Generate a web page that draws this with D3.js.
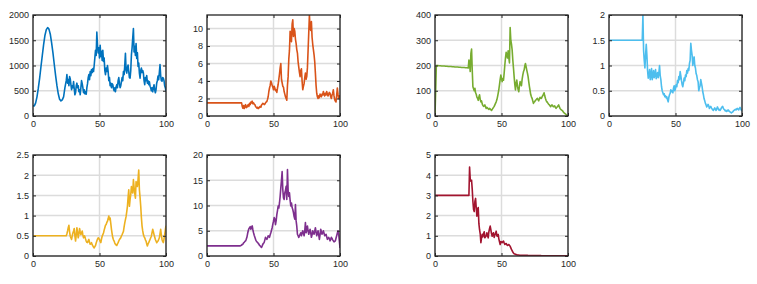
<!DOCTYPE html>
<html><head><meta charset="utf-8">
<script src="https://cdn.jsdelivr.net/npm/d3@7"></script>
<style>body{margin:0;background:#fff}svg{display:block}text{font-family:"Liberation Sans",Arial,sans-serif}</style>
</head><body><svg id="c" width="757" height="284"></svg>
<script>
// x ticks shared by all panels
const xTicks = [0, 50, 100];
// Each series: head = values at x = 0..24 (step 1); tail = values at x = 25..100 (step 0.5)
const blueHead = [200,200,260,380,550,750,980,1200,1420,1600,1710,1750,1720,1620,1450,1250,1020,800,600,440,330,300,320,380,560];
const blueTail = [
 700,820,650,720,600,780,740,620,520,600,
 560,680,540,420,460,600,650,560,600,480,
 520,420,560,700,640,560,460,520,440,480,
 430,560,640,760,820,720,880,800,920,860,
 940,880,1000,1150,1300,1200,1660,1400,1250,1350,
 1150,1400,1180,1280,1100,1300,1080,1150,900,820,
 950,880,1000,880,700,760,600,650,560,640,
 620,540,500,560,480,580,620,560,700,760,
 640,560,600,680,760,700,880,820,1000,1240,
 900,850,960,1010,880,760,750,900,1210,1350,
 1550,1730,1270,1380,1200,1435,1140,1250,980,1050,
 850,750,900,950,860,900,850,700,620,760,
 700,800,650,700,620,680,590,560,500,560,
 480,560,620,520,460,520,650,700,790,720,
 860,1020,800,700,690,760,750,700,600,560,
 490];
const orangeHead = [1.5,1.5,1.5,1.5,1.5,1.5,1.5,1.5,1.5,1.5,1.5,1.5,1.5,1.5,1.5,1.5,1.5,1.5,1.5,1.5,1.5,1.5,1.5,1.5,1.5];
const orangeTail = [
 1.5,1.5,1.5,1.1,0.9,1.2,0.85,1.1,1.3,0.95,
 1.0,1.2,1.3,1.1,1.45,1.3,1.6,1.5,1.7,1.4,
 1.5,1.35,1.3,1.1,1.0,0.9,1.0,0.85,0.9,1.05,
 1.1,1.0,1.25,1.35,1.45,1.4,1.3,1.35,1.5,1.6,
 1.65,1.9,2.2,2.8,3.2,3.5,4.0,3.8,3.5,3.3,
 3.0,3.4,3.2,2.9,3.0,2.7,3.2,3.6,4.2,4.8,
 5.5,6.0,4.2,3.8,3.4,3.3,2.8,2.5,2.2,2.0,
 1.8,3.5,4.5,6.5,7.5,9.7,9.0,8.5,10.5,11.0,
 9.1,10.0,9.7,8.8,8.3,7.6,7.2,6.2,5.6,5.0,
 4.5,5.2,5.4,4.0,3.0,3.4,3.7,4.4,4.9,4.2,
 4.5,5.5,7.5,9.5,11.55,10.0,9.8,10.8,9.0,8.2,
 7.6,7.0,6.2,4.9,3.5,2.6,2.2,2.0,2.3,2.1,
 2.5,2.3,2.2,2.5,2.4,2.8,2.5,2.3,2.6,2.4,
 2.8,2.5,2.3,2.5,2.7,2.6,2.2,2.0,2.4,2.6,
 3.0,2.3,1.9,1.7,1.6,2.4,3.2,2.5,2.0,2.3,
 2.1];
const greenHead = [0,200,200,199,199,198,198,198,197,197,196,196,196,195,195,194,194,194,193,193,192,192,192,191,191];
const greenTail = [
 190,222,202,176,248,265,182,116,108,100,
 110,92,86,75,70,62,75,84,66,56,
 60,48,42,38,40,44,36,30,34,32,
 28,26,30,28,25,22,26,30,34,38,
 44,50,56,64,76,90,105,124,145,162,
 150,136,148,142,170,202,230,252,240,230,
 258,230,210,350,300,285,262,222,190,156,
 125,103,130,142,118,105,96,120,136,128,
 120,145,162,175,182,198,208,195,182,170,
 156,135,116,100,84,76,70,60,50,55,
 57,62,64,68,70,64,60,68,74,70,
 70,76,80,86,92,80,70,62,57,54,
 50,46,44,40,37,42,44,40,37,38,
 40,34,30,34,37,40,44,36,30,27,
 24,22,20,16,13,10,8,6,3,1,
 0];
const cyanHead = [1.5,1.5,1.5,1.5,1.5,1.5,1.5,1.5,1.5,1.5,1.5,1.5,1.5,1.5,1.5,1.5,1.5,1.5,1.5,1.5,1.5,1.5,1.5,1.5,1.5];
const cyanTail = [
 1.5,2.0,1.3,1.1,0.95,1.2,1.42,1.2,0.9,0.75,
 0.8,0.92,0.72,0.82,0.94,0.72,0.8,0.9,0.76,0.82,
 0.92,0.74,0.8,0.86,0.76,0.85,1.0,0.8,0.72,0.58,
 0.5,0.46,0.42,0.44,0.38,0.4,0.36,0.38,0.32,0.28,
 0.37,0.42,0.45,0.52,0.48,0.5,0.46,0.55,0.6,0.5,
 0.55,0.62,0.58,0.7,0.66,0.78,0.72,0.88,0.8,0.7,
 0.62,0.58,0.66,0.75,0.7,0.81,0.78,0.9,0.85,0.94,
 0.9,1.04,1.1,1.44,1.3,1.2,1.0,1.12,1.17,1.0,
 0.95,0.84,0.8,0.72,0.68,0.5,0.56,0.6,0.72,0.65,
 0.58,0.48,0.42,0.34,0.3,0.25,0.22,0.18,0.2,0.23,
 0.2,0.15,0.17,0.19,0.16,0.14,0.12,0.11,0.14,0.16,
 0.13,0.11,0.14,0.18,0.15,0.12,0.13,0.11,0.13,0.16,
 0.18,0.19,0.15,0.13,0.12,0.1,0.11,0.09,0.1,0.12,
 0.11,0.09,0.08,0.07,0.06,0.07,0.08,0.1,0.11,0.12,
 0.13,0.12,0.14,0.15,0.13,0.12,0.15,0.17,0.14,0.12,
 0.1];
const yellowHead = [0.5,0.5,0.5,0.5,0.5,0.5,0.5,0.5,0.5,0.5,0.5,0.5,0.5,0.5,0.5,0.5,0.5,0.5,0.5,0.5,0.5,0.5,0.5,0.5,0.5];
const yellowTail = [
 0.5,0.55,0.62,0.7,0.76,0.6,0.49,0.45,0.41,0.5,
 0.57,0.62,0.68,0.5,0.37,0.52,0.7,0.58,0.45,0.55,
 0.68,0.6,0.53,0.57,0.62,0.52,0.45,0.5,0.48,0.42,
 0.37,0.34,0.33,0.38,0.41,0.34,0.29,0.31,0.33,0.28,
 0.25,0.22,0.2,0.23,0.26,0.32,0.37,0.42,0.45,0.43,
 0.41,0.36,0.33,0.42,0.49,0.53,0.57,0.64,0.7,0.76,
 0.78,0.83,0.86,0.92,0.99,0.9,0.94,0.8,0.66,0.55,
 0.45,0.4,0.37,0.32,0.29,0.27,0.26,0.3,0.33,0.37,
 0.41,0.43,0.45,0.5,0.53,0.57,0.61,0.72,0.82,0.9,
 0.98,1.1,1.23,1.45,1.64,1.23,1.4,1.52,1.72,1.6,
 1.56,1.89,1.7,1.55,1.43,1.84,1.75,1.72,1.9,2.13,
 1.64,1.45,1.23,0.95,0.74,0.62,0.53,0.48,0.45,0.4,
 0.37,0.3,0.25,0.3,0.33,0.37,0.41,0.45,0.49,0.58,
 0.66,0.6,0.53,0.47,0.41,0.37,0.33,0.35,0.37,0.41,
 0.45,0.55,0.66,0.52,0.41,0.36,0.33,0.42,0.53,0.65,
 0.75];
const purpleHead = [2,2,2,2,2,2,2,2,2,2,2,2,2,2,2,2,2,2,2,2,2,2,2,2,2];
const purpleTail = [
 2.0,2.1,2.15,2.3,2.35,2.6,2.7,2.9,3.0,3.3,
 3.7,4.4,5.0,5.4,5.6,5.8,5.3,5.7,5.95,5.2,
 4.6,4.1,3.7,3.3,3.0,2.8,2.7,2.5,2.35,2.1,
 2.0,1.8,1.7,2.0,2.35,2.5,2.7,3.2,3.7,3.5,
 3.3,3.6,4.0,3.9,3.7,4.2,4.6,5.1,5.6,6.3,
 6.9,7.6,7.3,6.2,7.0,8.2,9.0,9.9,9.5,10.5,
 11.8,13.5,15.0,16.7,13.1,11.5,11.2,12.5,13.0,13.8,
 11.2,17.1,13.0,11.8,12.5,11.0,9.9,10.5,9.6,9.2,
 8.6,7.8,7.3,10.2,7.0,5.9,4.3,4.0,3.7,4.0,
 4.3,4.6,4.0,4.5,5.0,4.5,4.0,5.0,6.6,4.6,
 5.2,5.95,5.0,4.3,4.8,5.3,4.6,3.7,4.2,5.0,
 4.7,4.3,4.9,5.6,4.8,4.0,4.5,5.0,4.2,3.3,
 4.2,5.3,4.8,4.3,4.6,5.0,4.5,4.0,4.2,4.3,
 3.8,3.3,3.5,3.7,3.4,3.0,3.3,3.7,3.5,3.2,
 3.0,2.8,2.9,3.0,3.5,4.0,4.5,5.0,4.3,3.0,
 1.6];
const redHead = [3,3,3,3,3,3,3,3,3,3,3,3,3,3,3,3,3,3,3,3,3,3,3,3,3];
const redTail = [
 3,3,4.4,3.8,3.7,3.75,3.3,2.7,2.3,2.2,
 2.7,2.85,2.4,1.97,2.3,2.4,1.6,1.3,1.1,0.66,
 0.9,1.07,0.95,1.1,1.2,0.9,0.95,1.0,1.15,1.0,
 0.9,1.2,1.35,1.48,1.3,1.1,0.98,1.1,1.15,0.92,
 1.05,1.1,1.23,1.0,0.98,1.07,0.85,0.7,0.57,0.72,
 0.7,0.66,0.7,0.74,0.65,0.57,0.6,0.62,0.56,0.52,
 0.55,0.57,0.52,0.49,0.4,0.33,0.26,0.2,0.15,0.11,
 0.1,0.08,0.07,0.06,0.05,0.05,0.05,0.04,0.04,0.04,
 0.035,0.03,0.03,0.03,0.03,0.03,0.03,0.03,0.03,0.03,
 0.025,0.025,0.025,0.025,0.025,0.02,0.02,0.02,0.02,0.02,
 0.02,0.02,0.02,0.02,0.02,0.02,0.02,0.02,0.02,0.02,
 0.015,0.015,0.015,0.015,0.015,0.015,0.015,0.015,0.015,0.015,
 0.015,0.01,0.01,0.01,0.01,0.01,0.01,0.01,0.01,0.01,
 0.01,0.01,0.01,0.01,0.01,0.01,0.01,0.01,0.01,0.01,
 0.01,0.01,0.01,0.01,0.01,0.01,0.01,0.01,0.01,0.01,
 0.01];

const panels = [
 {head: blueHead,   tail: blueTail,   color: "#0072BD", ymax: 2000,  yticks: [0,500,1000,1500,2000], col: 0, row: 0},
 {head: orangeHead, tail: orangeTail, color: "#D95319", ymax: 11.55, yticks: [0,2,4,6,8,10], col: 1, row: 0},
 {head: greenHead,  tail: greenTail,  color: "#77AC30", ymax: 400,   yticks: [0,100,200,300,400], col: 2, row: 0},
 {head: cyanHead,   tail: cyanTail,   color: "#4DBEEE", ymax: 2,     yticks: [0,0.5,1,1.5,2], col: 3, row: 0},
 {head: yellowHead, tail: yellowTail, color: "#EDB120", ymax: 2.5,   yticks: [0,0.5,1,1.5,2,2.5], col: 0, row: 1},
 {head: purpleHead, tail: purpleTail, color: "#7E2F8E", ymax: 20,    yticks: [0,5,10,15,20], col: 1, row: 1},
 {head: redHead,    tail: redTail,    color: "#A2142F", ymax: 5,     yticks: [0,1,2,3,4,5], col: 2, row: 1}
];
const colX = [33, 207, 435, 609];
const rowY = [15, 155];
const W = 133, H = 101;
const svg = d3.select("#c");
panels.forEach(p => {
  const pts = p.head.map((v,i)=>[i,v]).concat(p.tail.map((v,j)=>[25 + j*0.5, v]));
  const g = svg.append("g").attr("transform", `translate(${colX[p.col]},${rowY[p.row]})`);
  const x = d3.scaleLinear().domain([0,100]).range([0,W]);
  const y = d3.scaleLinear().domain([0,p.ymax]).range([H,0]);
  g.append("g").selectAll("line").data(xTicks).join("line")
    .attr("x1", d=>x(d)).attr("x2", d=>x(d)).attr("y1",0).attr("y2",H)
    .attr("stroke","#dcdcdc").attr("stroke-width",1.5);
  g.append("g").selectAll("line").data(p.yticks).join("line")
    .attr("y1", d=>y(d)).attr("y2", d=>y(d)).attr("x1",0).attr("x2",W)
    .attr("stroke","#dcdcdc").attr("stroke-width",1.5);
  g.append("clipPath").attr("id","cp"+p.col+p.row).append("rect").attr("width",W).attr("height",H);
  const line = d3.line().x(d=>x(d[0])).y(d=>y(d[1]));
  g.append("path").datum(pts).attr("d", line).attr("fill","none")
    .attr("clip-path",`url(#cp${p.col}${p.row})`)
    .attr("stroke", p.color).attr("stroke-width",1.6).attr("stroke-linejoin","round");
  const ax = d3.axisBottom(x).tickValues(xTicks).tickSize(-3).tickPadding(5).tickFormat(d3.format("d"));
  const ay = d3.axisLeft(y).tickValues(p.yticks).tickSize(-3).tickPadding(4).tickFormat(d=>String(d));
  const ax2 = d3.axisTop(x).tickValues(xTicks).tickSize(-3).tickFormat("");
  const ay2 = d3.axisRight(y).tickValues(p.yticks).tickSize(-3).tickFormat("");
  const style = s => { s.select(".domain").remove(); s.selectAll("line").attr("stroke","#262626");
    s.selectAll("text").attr("fill","#262626").style("font-size","9px"); };
  g.append("g").attr("transform",`translate(0,${H})`).call(ax).call(style);
  g.append("g").call(ay).call(style);
  g.append("g").call(ax2).call(style);
  g.append("g").attr("transform",`translate(${W},0)`).call(ay2).call(style);
  g.append("rect").attr("width",W).attr("height",H).attr("fill","none")
    .attr("stroke","#262626").attr("stroke-width",1.3);
});
</script></body></html>
